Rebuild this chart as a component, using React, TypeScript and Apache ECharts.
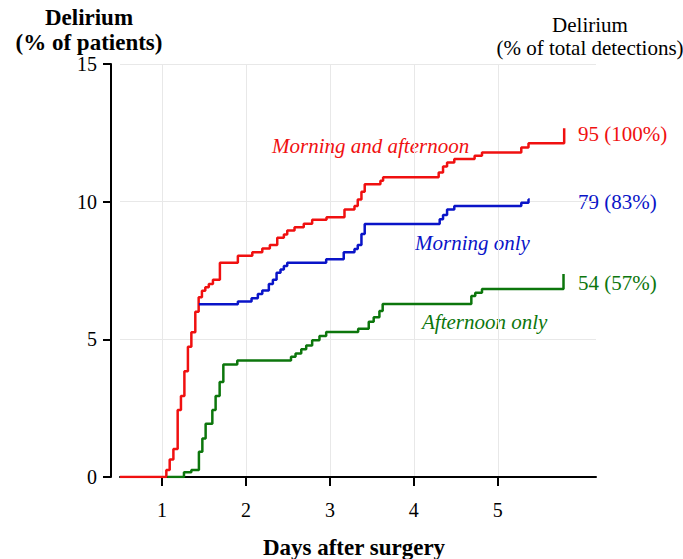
import React, { useEffect, useRef } from "react";
import * as echarts from "echarts";

const xTicks = [1, 2, 3, 4, 5];

const bothDays = [0.5, 1.052, 1.092, 1.136, 1.187, 1.226, 1.267, 1.309, 1.35, 1.397, 1.437, 1.476, 1.516, 1.558, 1.607, 1.69, 1.904, 2.076, 2.195, 2.285, 2.373, 2.452, 2.492, 2.579, 2.689, 2.789, 2.96, 3.174, 3.293, 3.332, 3.376, 3.415, 3.602, 3.634, 4.296, 4.348, 4.396, 4.482, 4.724, 4.812, 5.28, 5.366, 5.791];
const bothPct = [0, 0.25, 0.64, 1.02, 2.43, 2.94, 3.84, 4.73, 5.26, 6.0, 6.53, 6.76, 6.89, 7.01, 7.16, 7.78, 8.04, 8.16, 8.3, 8.43, 8.69, 8.81, 8.95, 9.07, 9.2, 9.34, 9.43, 9.72, 9.84, 10.08, 10.36, 10.63, 10.76, 10.89, 11.06, 11.28, 11.42, 11.55, 11.67, 11.79, 11.97, 12.12, 12.67];

const morningDays = [1.44, 1.904, 2.067, 2.142, 2.195, 2.273, 2.321, 2.365, 2.412, 2.452, 2.492, 2.956, 3.165, 3.293, 3.332, 3.376, 3.415, 4.308, 4.348, 4.396, 4.482, 5.28, 5.366, 5.381];
const morningPct = [6.27, 6.37, 6.49, 6.65, 6.77, 7.01, 7.16, 7.42, 7.54, 7.66, 7.78, 7.91, 8.16, 8.28, 8.43, 8.83, 9.19, 9.36, 9.52, 9.72, 9.84, 9.96, 10.08, 10.08];

const afternoonDays = [1.064, 1.262, 1.35, 1.44, 1.481, 1.52, 1.6, 1.639, 1.687, 1.731, 1.897, 2.537, 2.591, 2.659, 2.718, 2.789, 2.876, 2.956, 3.337, 3.463, 3.522, 3.59, 3.629, 4.685, 4.732, 4.812, 5.783];
const afternoonPct = [0, 0.17, 0.25, 0.92, 1.4, 1.93, 2.43, 2.94, 3.45, 4.09, 4.23, 4.37, 4.49, 4.64, 4.78, 4.97, 5.12, 5.27, 5.38, 5.64, 5.8, 6.03, 6.28, 6.57, 6.69, 6.83, 7.37];

const seriesNames = ["Morning and afternoon", "Morning only", "Afternoon only"];
const endLabels = ["95 (100%)", "79 (83%)", "54 (57%)"];
const colors = ["#f01010", "#0a14c8", "#0c760c"];

const FONT = "'Liberation Serif', 'Times New Roman', serif";

const zip = (xs: number[], ys: number[]) => xs.map((x, i) => [x, ys[i]]);

export default function App() {
  const ref = useRef<HTMLDivElement>(null);
  useEffect(() => {
    if (!ref.current) return;
    const chart = echarts.init(ref.current, null, { renderer: "svg" });
    const mkSeries = (name: string, data: number[][], color: string) => ({
      type: "line",
      name,
      step: "end",
      data,
      symbol: "none",
      lineStyle: { color, width: 2.5 },
      z: 3,
    });
    chart.setOption({
      animation: false,
      backgroundColor: "#ffffff",
      grid: { left: 120, right: 87, top: 64, bottom: 82 },
      xAxis: {
        type: "value",
        min: 0.5,
        max: 6.17,
        offset: 5,
        axisLine: { show: true, lineStyle: { color: "#000", width: 2 } },
        axisTick: { show: true, length: 9, customValues: xTicks, lineStyle: { color: "#000", width: 2 } },
        axisLabel: { customValues: xTicks, fontSize: 20, fontFamily: FONT, color: "#000", margin: 18 },
        splitLine: { show: true, lineStyle: { color: "#e8e8e8", width: 1 } },
      },
      yAxis: {
        type: "value",
        min: 0,
        max: 15,
        interval: 5,
        offset: 9,
        axisLine: { show: true, lineStyle: { color: "#000", width: 2 } },
        axisTick: { show: true, length: 8, lineStyle: { color: "#000", width: 2 } },
        axisLabel: { fontSize: 20, fontFamily: FONT, color: "#000", margin: 14 },
        splitLine: { show: true, lineStyle: { color: "#e8e8e8", width: 1 } },
      },
      series: [
        mkSeries(seriesNames[0], zip(bothDays, bothPct), colors[0]),
        mkSeries(seriesNames[1], zip(morningDays, morningPct), colors[1]),
        mkSeries(seriesNames[2], zip(afternoonDays, afternoonPct), colors[2]),
      ],
      graphic: [
        {
          type: "text", x: 89, y: 5,
          style: { text: "Delirium\n(% of patients)", fontSize: 23, fontWeight: "bold", fontFamily: FONT, fill: "#000", align: "center", lineHeight: 25 },
        },
        {
          type: "text", x: 590, y: 13,
          style: { text: "Delirium\n(% of total detections)", fontSize: 21, fontFamily: FONT, fill: "#000", align: "center", lineHeight: 23 },
        },
        {
          type: "text", x: 354, y: 536,
          style: { text: "Days after surgery", fontSize: 23, fontWeight: "bold", fontFamily: FONT, fill: "#000", align: "center" },
        },
        {
          type: "text", x: 272, y: 135,
          style: { text: seriesNames[0], fontSize: 21, fontStyle: "italic", fontFamily: FONT, fill: colors[0] },
        },
        {
          type: "text", x: 415, y: 232,
          style: { text: seriesNames[1], fontSize: 21, fontStyle: "italic", fontFamily: FONT, fill: colors[1] },
        },
        {
          type: "text", x: 422, y: 311,
          style: { text: seriesNames[2], fontSize: 21, fontStyle: "italic", fontFamily: FONT, fill: colors[2] },
        },
        {
          type: "text", x: 578, y: 123,
          style: { text: endLabels[0], fontSize: 21, fontFamily: FONT, fill: colors[0] },
        },
        {
          type: "text", x: 578, y: 191,
          style: { text: endLabels[1], fontSize: 21, fontFamily: FONT, fill: colors[1] },
        },
        {
          type: "text", x: 578, y: 272,
          style: { text: endLabels[2], fontSize: 21, fontFamily: FONT, fill: colors[2] },
        },
      ],
    });
    return () => chart.dispose();
  }, []);
  return <div ref={ref} style={{ width: 683, height: 559, position: "absolute", left: 0, top: 0 }} />;
}
